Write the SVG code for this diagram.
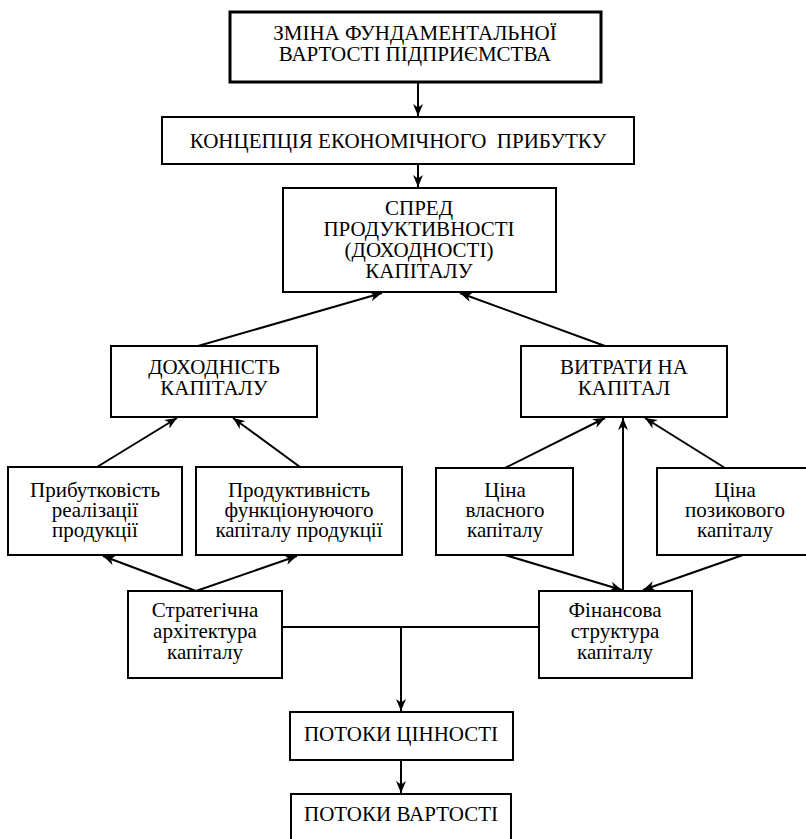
<svg xmlns="http://www.w3.org/2000/svg" width="806" height="839" viewBox="0 0 806 839">
  <style>
    svg text, g text, text.lbl { font-family: 'Liberation Serif' !important; font-size: 21px; fill: #000000; text-anchor: middle; }
    .box { fill: #ffffff; stroke: #000000; stroke-width: 2; }
    .thick { stroke-width: 3; }
    .wire { fill: none; stroke: #000000; stroke-width: 2; }
  </style>
  <defs>
    <marker id="arrow" viewBox="0 0 12 10" refX="12" refY="5" markerWidth="12" markerHeight="10" markerUnits="userSpaceOnUse" orient="auto">
      <path d="M0,0 L12,5 L0,10 L3.5,5 z" fill="#000000"/>
    </marker>
  </defs>
  <rect width="806" height="839" fill="#ffffff"/>

  <!-- arrows and joining lines -->
  <g id="connectors">
    <line class="wire" x1="418" y1="83" x2="418" y2="116" marker-end="url(#arrow)"/>
    <line class="wire" x1="418" y1="165" x2="418" y2="187" marker-end="url(#arrow)"/>
    <line class="wire" x1="198" y1="346" x2="382" y2="293" marker-end="url(#arrow)"/>
    <line class="wire" x1="605" y1="346" x2="460" y2="293" marker-end="url(#arrow)"/>
    <line class="wire" x1="97" y1="467" x2="177" y2="418" marker-end="url(#arrow)"/>
    <line class="wire" x1="300" y1="467" x2="233" y2="418" marker-end="url(#arrow)"/>
    <line class="wire" x1="505" y1="468" x2="605" y2="418" marker-end="url(#arrow)"/>
    <line class="wire" x1="623" y1="591" x2="623" y2="418" marker-end="url(#arrow)"/>
    <line class="wire" x1="725" y1="468" x2="645" y2="418" marker-end="url(#arrow)"/>
    <line class="wire" x1="196" y1="591" x2="103" y2="556" marker-end="url(#arrow)"/>
    <line class="wire" x1="196" y1="591" x2="297" y2="556" marker-end="url(#arrow)"/>
    <line class="wire" x1="505" y1="555" x2="622" y2="590" marker-end="url(#arrow)"/>
    <line class="wire" x1="743" y1="555" x2="643" y2="590" marker-end="url(#arrow)"/>
    <line class="wire" x1="282" y1="627" x2="539" y2="627"/>
    <line class="wire" x1="401" y1="627" x2="401" y2="711" marker-end="url(#arrow)"/>
    <line class="wire" x1="401" y1="761" x2="401" y2="793" marker-end="url(#arrow)"/>
  </g>

  <g id="fundamental-value">
    <rect class="box thick" x="230" y="12" width="371" height="70"/>
    <text class="lbl" style="font-family: 'Liberation Serif' !important" x="415" y="40">ЗМІНА ФУНДАМЕНТАЛЬНОЇ</text>
    <text class="lbl" style="font-family: 'Liberation Serif' !important" x="415" y="61">ВАРТОСТІ ПІДПРИЄМСТВА</text>
  </g>

  <g id="economic-profit">
    <rect class="box" x="162" y="117" width="472" height="47"/>
    <text class="lbl" style="font-family: 'Liberation Serif' !important" x="398" y="148" xml:space="preserve">КОНЦЕПЦІЯ ЕКОНОМІЧНОГО  ПРИБУТКУ</text>
  </g>

  <g id="spread">
    <rect class="box" x="283" y="188" width="273" height="104"/>
    <text class="lbl" style="font-family: 'Liberation Serif' !important" x="419" y="215">СПРЕД</text>
    <text class="lbl" style="font-family: 'Liberation Serif' !important" x="419" y="236">ПРОДУКТИВНОСТІ</text>
    <text class="lbl" style="font-family: 'Liberation Serif' !important" x="419" y="257">(ДОХОДНОСТІ)</text>
    <text class="lbl" style="font-family: 'Liberation Serif' !important" x="419" y="278">КАПІТАЛУ</text>
  </g>

  <g id="return-on-capital">
    <rect class="box" x="111" y="346" width="206" height="71"/>
    <text class="lbl" style="font-family: 'Liberation Serif' !important" x="214" y="374">ДОХОДНІСТЬ</text>
    <text class="lbl" style="font-family: 'Liberation Serif' !important" x="214" y="395">КАПІТАЛУ</text>
  </g>

  <g id="cost-of-capital">
    <rect class="box" x="521" y="346" width="206" height="71"/>
    <text class="lbl" style="font-family: 'Liberation Serif' !important" x="624" y="374">ВИТРАТИ НА</text>
    <text class="lbl" style="font-family: 'Liberation Serif' !important" x="624" y="395">КАПІТАЛ</text>
  </g>

  <g id="sales-profitability">
    <rect class="box" x="8" y="467" width="174" height="88"/>
    <text class="lbl" style="font-family: 'Liberation Serif' !important" x="95" y="497">Прибутковість</text>
    <text class="lbl" style="font-family: 'Liberation Serif' !important" x="95" y="517">реалізації</text>
    <text class="lbl" style="font-family: 'Liberation Serif' !important" x="95" y="537">продукції</text>
  </g>

  <g id="capital-productivity">
    <rect class="box" x="196" y="467" width="206" height="88"/>
    <text class="lbl" style="font-family: 'Liberation Serif' !important" x="299" y="497">Продуктивність</text>
    <text class="lbl" style="font-family: 'Liberation Serif' !important" x="299" y="517">функціонуючого</text>
    <text class="lbl" style="font-family: 'Liberation Serif' !important" x="299" y="537">капіталу продукції</text>
  </g>

  <g id="equity-cost">
    <rect class="box" x="436" y="468" width="137" height="87"/>
    <text class="lbl" style="font-family: 'Liberation Serif' !important" x="505" y="497">Ціна</text>
    <text class="lbl" style="font-family: 'Liberation Serif' !important" x="505" y="517">власного</text>
    <text class="lbl" style="font-family: 'Liberation Serif' !important" x="505" y="537">капіталу</text>
  </g>

  <g id="debt-cost">
    <rect class="box" x="657" y="468" width="155" height="87"/>
    <text class="lbl" style="font-family: 'Liberation Serif' !important" x="735" y="497">Ціна</text>
    <text class="lbl" style="font-family: 'Liberation Serif' !important" x="735" y="517">позикового</text>
    <text class="lbl" style="font-family: 'Liberation Serif' !important" x="735" y="537">капіталу</text>
  </g>

  <g id="strategic-architecture">
    <rect class="box" x="128" y="591" width="154" height="87"/>
    <text class="lbl" style="font-family: 'Liberation Serif' !important" x="205" y="617">Стратегічна</text>
    <text class="lbl" style="font-family: 'Liberation Serif' !important" x="205" y="638">архітектура</text>
    <text class="lbl" style="font-family: 'Liberation Serif' !important" x="205" y="659">капіталу</text>
  </g>

  <g id="financial-structure">
    <rect class="box" x="539" y="591" width="153" height="87"/>
    <text class="lbl" style="font-family: 'Liberation Serif' !important" x="615" y="617">Фінансова</text>
    <text class="lbl" style="font-family: 'Liberation Serif' !important" x="615" y="638">структура</text>
    <text class="lbl" style="font-family: 'Liberation Serif' !important" x="615" y="659">капіталу</text>
  </g>

  <g id="value-flows">
    <rect class="box" x="290" y="712" width="223" height="48"/>
    <text class="lbl" style="font-family: 'Liberation Serif' !important" x="401" y="741">ПОТОКИ ЦІННОСТІ</text>
  </g>

  <g id="cost-flows">
    <rect class="box" x="291" y="794" width="220" height="60"/>
    <text class="lbl" style="font-family: 'Liberation Serif' !important" x="401" y="821">ПОТОКИ ВАРТОСТІ</text>
  </g>
</svg>
